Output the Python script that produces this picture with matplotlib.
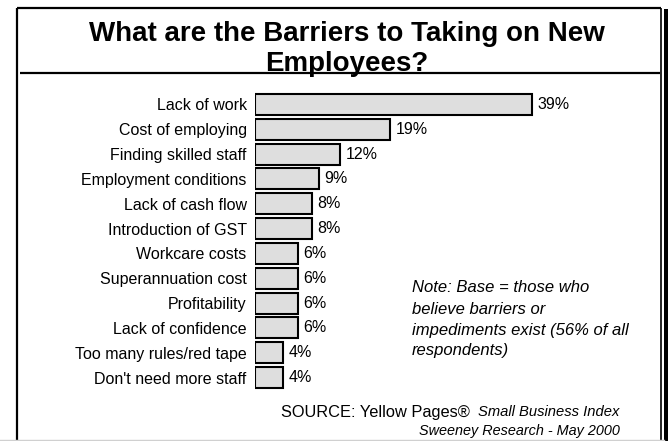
import matplotlib
matplotlib.use("Agg")
import matplotlib.pyplot as plt
from matplotlib.lines import Line2D
from matplotlib.patches import Rectangle

categories = [
    "Lack of work",
    "Cost of employing",
    "Finding skilled staff",
    "Employment conditions",
    "Lack of cash flow",
    "Introduction of GST",
    "Workcare costs",
    "Superannuation cost",
    "Profitability",
    "Lack of confidence",
    "Too many rules/red tape",
    "Don't need more staff",
]
values = [39, 19, 12, 9, 8, 8, 6, 6, 6, 6, 4, 4]
value_labels = ["39%", "19%", "12%", "9%", "8%", "8%", "6%", "6%", "6%", "6%", "4%", "4%"]

title_lines = ["What are the Barriers to Taking on New", "Employees?"]
note_lines = [
    "Note: Base = those who",
    "believe barriers or",
    "impediments exist (56% of all",
    "respondents)",
]

plt.rcParams["font.family"] = ["Liberation Sans", "DejaVu Sans"]

W, H = 671, 441
fig = plt.figure(figsize=(W / 100, H / 100), dpi=100)
fig.patch.set_facecolor("white")


def fx(px):
    return px / W


def fy(py):
    return 1 - py / H


# outer frame and header rule
frame_kw = dict(transform=fig.transFigure, color="black", solid_capstyle="butt")
fig.add_artist(Line2D([fx(17), fx(17)], [fy(8), fy(441)], lw=1.6, **frame_kw))
fig.add_artist(Line2D([fx(17), fx(661)], [fy(8), fy(8)], lw=1.6, **frame_kw))
fig.add_artist(Line2D([fx(660.5), fx(660.5)], [fy(8), fy(441)], lw=1.2, **frame_kw))
fig.add_artist(Rectangle((fx(664), 0), fx(4), fy(9), transform=fig.transFigure,
                         facecolor="black", edgecolor="none"))
fig.add_artist(Line2D([fx(20), fx(660)], [fy(72.5), fy(72.5)], lw=1.6, **frame_kw))
fig.add_artist(Line2D([0, fx(664)], [fy(439.5), fy(439.5)], lw=1.0,
                      transform=fig.transFigure, color="#d0d0d0"))

# title
fig.text(fx(347), fy(34), title_lines[0], ha="center", va="center",
         fontsize=20, fontweight="bold")
fig.text(fx(347), fy(64), title_lines[1], ha="center", va="center",
         fontsize=20, fontweight="bold")

# bar chart
px_per_pct = 7.1
x0, xmax = 255, 45
top, bottom = 92, 390
ax = fig.add_axes([fx(x0), fy(bottom), fx(xmax * px_per_pct), (bottom - top) / H])
ypos = list(range(len(categories)))
ax.barh(ypos, values, height=0.84, color="#dedede", edgecolor="black", linewidth=1.5)
ax.set_xlim(0, xmax)
ax.set_ylim(len(categories) - 0.5, -0.5)
ax.set_yticks(ypos)
ax.set_yticklabels(categories, fontsize=11.5)
ax.tick_params(axis="y", length=0, pad=6)
ax.set_xticks([])
for s in ax.spines.values():
    s.set_visible(False)
ax.patch.set_alpha(0)

for y, v, lab in zip(ypos, values, value_labels):
    ax.annotate(lab, (v, y), xytext=(4, 0), textcoords="offset points",
                ha="left", va="center", fontsize=11.5)

# note
for i, line in enumerate(note_lines):
    fig.text(fx(412), fy(288 + i * 21), line, ha="left", va="center",
             fontsize=12, style="italic")

# source
src = fig.text(fx(281), fy(412), "SOURCE: Yellow Pages\u00ae", ha="left", va="center",
               fontsize=11.8)
fig.canvas.draw()
bb = src.get_window_extent()
fig.text((bb.x1 + 8) / W, fy(412), "Small Business Index", ha="left", va="center",
         fontsize=10.6, style="italic")
fig.text(fx(620), fy(431), "Sweeney Research - May 2000", ha="right", va="center",
         fontsize=10.4, style="italic")

fig.savefig("out.png", dpi=100, facecolor="white")
